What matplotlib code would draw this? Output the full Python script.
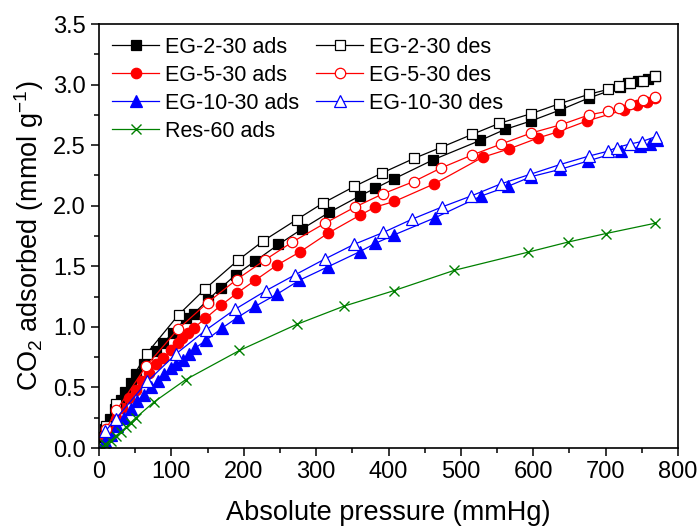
"""CO2 吸附/脱附等温线图。

EG 系列样品的吸附 (ads) 与脱附 (des) 曲线，以及 Res-60 的吸附曲线。
"""

import matplotlib
matplotlib.use("Agg")
import matplotlib.pyplot as plt
from matplotlib.ticker import MultipleLocator

plt.rcParams["font.family"] = ["Liberation Sans", "DejaVu Sans"]
plt.rcParams["mathtext.default"] = "regular"

# ---- 数据（从原图读取，单位：mmHg / mmol g-1）----
eg2_ads_p = [5, 9, 15, 22, 30, 36, 44, 51, 62, 79, 89, 102, 120, 131, 150, 168, 189,
             215, 248, 281, 318, 360, 382, 407, 462, 527, 561, 597, 637, 677, 720,
             731, 745, 759, 768]
eg2_ads_q = [0.09, 0.16, 0.24, 0.32, 0.40, 0.46, 0.54, 0.61, 0.69, 0.80, 0.87, 0.95,
             1.07, 1.11, 1.22, 1.32, 1.43, 1.54, 1.68, 1.81, 1.945, 2.08, 2.145, 2.22,
             2.38, 2.54, 2.63, 2.70, 2.79, 2.89, 2.98, 3.01, 3.03, 3.05, 3.07]

eg2_des_p = [10, 24, 66, 110, 146, 192, 227, 273, 309, 353, 391, 435, 472, 516, 553,
             597, 635, 677, 703, 718, 734, 751, 768]
eg2_des_q = [0.18, 0.36, 0.78, 1.10, 1.31, 1.55, 1.71, 1.885, 2.02, 2.16, 2.27, 2.39,
             2.48, 2.59, 2.68, 2.76, 2.84, 2.92, 2.96, 2.99, 3.01, 3.03, 3.07]

eg5_ads_p = [7, 14, 23, 32, 42, 51, 60, 69, 79, 88, 100, 109, 115, 123, 131, 147, 169,
             191, 216, 246, 278, 317, 360, 382, 408, 463, 530, 567, 607, 634, 674, 725,
             743, 757, 768]
eg5_ads_q = [0.10, 0.17, 0.25, 0.33, 0.415, 0.48, 0.55, 0.62, 0.69, 0.74, 0.81, 0.87,
             0.91, 0.95, 0.99, 1.07, 1.18, 1.28, 1.385, 1.51, 1.62, 1.775, 1.92, 1.99,
             2.035, 2.18, 2.40, 2.47, 2.56, 2.61, 2.70, 2.79, 2.83, 2.86, 2.89]

eg5_des_p = [10, 24, 65, 109, 150, 190, 230, 267, 312, 354, 393, 435, 472, 516, 556,
             597, 639, 677, 703, 718, 734, 751, 768]
eg5_des_q = [0.16, 0.31, 0.675, 0.98, 1.20, 1.39, 1.555, 1.70, 1.855, 1.99, 2.10, 2.20,
             2.31, 2.42, 2.51, 2.60, 2.67, 2.75, 2.78, 2.81, 2.84, 2.87, 2.90]

eg10_ads_p = [9, 16, 25, 35, 44, 53, 62, 72, 81, 90, 100, 107, 116, 124, 133, 148, 170,
              192, 216, 246, 277, 316, 360, 382, 408, 464, 528, 565, 597, 637, 676, 721,
              748, 761, 771]
eg10_ads_q = [0.06, 0.11, 0.18, 0.25, 0.32, 0.39, 0.44, 0.50, 0.55, 0.61, 0.66, 0.69,
              0.73, 0.78, 0.825, 0.89, 0.99, 1.08, 1.17, 1.27, 1.385, 1.495, 1.62, 1.69,
              1.76, 1.90, 2.08, 2.16, 2.24, 2.30, 2.37, 2.45, 2.49, 2.51, 2.54]

eg10_des_p = [9, 23, 67, 107, 148, 188, 231, 271, 312, 352, 393, 433, 474, 514, 555,
              596, 637, 677, 703, 715, 734, 750, 769]
eg10_des_q = [0.14, 0.24, 0.55, 0.78, 0.975, 1.145, 1.30, 1.43, 1.56, 1.68, 1.78, 1.89,
              1.99, 2.08, 2.18, 2.26, 2.34, 2.41, 2.45, 2.48, 2.51, 2.53, 2.57]

res60_ads_p = [5, 9, 16, 23, 30, 37, 44, 51, 76, 120, 194, 273, 338, 408, 491, 593, 648,
               700, 768]
res60_ads_q = [0.01, 0.03, 0.06, 0.10, 0.13, 0.17, 0.21, 0.25, 0.38, 0.565, 0.805, 1.02,
               1.17, 1.30, 1.467, 1.617, 1.70, 1.77, 1.855]

# (标签, x, y, 颜色, marker, 是否实心)
series = [
    ("EG-2-30 ads", eg2_ads_p, eg2_ads_q, "black", "s", True),
    ("EG-5-30 ads", eg5_ads_p, eg5_ads_q, "red", "o", True),
    ("EG-10-30 ads", eg10_ads_p, eg10_ads_q, "blue", "^", True),
    ("Res-60 ads", res60_ads_p, res60_ads_q, "green", "x", True),
    ("EG-2-30 des", eg2_des_p, eg2_des_q, "black", "s", False),
    ("EG-5-30 des", eg5_des_p, eg5_des_q, "red", "o", False),
    ("EG-10-30 des", eg10_des_p, eg10_des_q, "blue", "^", False),
]

fig = plt.figure(figsize=(6.99, 5.28), dpi=100)
ax = fig.add_axes([0.1416, 0.1515, 0.8284, 0.803])

handles = {}
for label, xs, ys, color, marker, filled in series:
    size = {"s": 6.5, "o": 7.5, "^": 8, "x": 7.5}[marker]
    (h,) = ax.plot(
        xs, ys,
        color=color,
        lw=0.9,
        marker=marker,
        markersize=size,
        markerfacecolor=color if filled else "white",
        markeredgecolor=color,
        markeredgewidth=0.9 if marker != "x" else 1.0,
    )
    handles[label] = h

ax.set_xlim(0, 800)
ax.set_ylim(0, 3.5)
ax.xaxis.set_major_locator(MultipleLocator(100))
ax.xaxis.set_minor_locator(MultipleLocator(50))
ax.yaxis.set_major_locator(MultipleLocator(0.5))
ax.yaxis.set_minor_locator(MultipleLocator(0.25))
ax.yaxis.set_major_formatter(plt.FormatStrFormatter("%.1f"))

ax.tick_params(which="both", direction="out", top=False, right=False,
               labelsize=17, width=1.1)
ax.tick_params(which="major", length=6)
ax.tick_params(which="minor", length=3.5)
for sp in ax.spines.values():
    sp.set_linewidth(1.2)

ax.set_xlabel("Absolute pressure (mmHg)", fontsize=19.5, labelpad=12)
ax.set_ylabel("CO$_2$ adsorbed (mmol g$^{-1}$)", fontsize=19.5, labelpad=5)

# 图例：两列，左列 ads + Res-60，右列 des
order = ["EG-2-30 ads", "EG-5-30 ads", "EG-10-30 ads", "Res-60 ads",
         "EG-2-30 des", "EG-5-30 des", "EG-10-30 des"]
ax.legend([handles[k] for k in order], order, ncol=2, loc="upper left",
          frameon=False, fontsize=15.5, handlelength=2.2, handletextpad=0.25,
          labelspacing=0.32, columnspacing=0.8, borderaxespad=0.2)

fig.savefig("out.png", dpi=100)
